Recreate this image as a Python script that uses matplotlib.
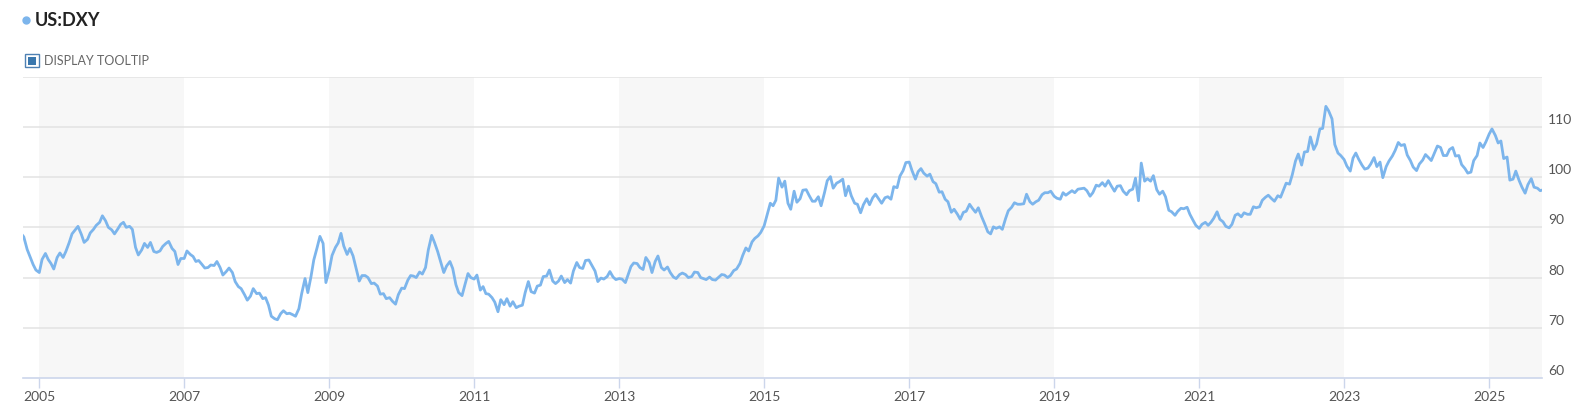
import pandas as pd
import matplotlib
matplotlib.use('Agg')
import matplotlib.pyplot as plt
import matplotlib.dates as mdates
import matplotlib.transforms as mtransforms
from matplotlib.patches import Rectangle

# DXY index, semi-monthly readings (1st and 15th of each month)
v2004 = [88.8, 88.1, 85.6, 84.2, 82.6, 81.5]  # from Oct 1
v2005 = [81.0, 83.6, 84.8, 83.6, 82.8, 81.7, 84.0, 84.9, 84.0, 85.2, 87.0, 88.7,
         89.5, 90.2, 88.6, 87.0, 87.6, 88.9, 89.6, 90.4, 91.0, 92.3, 91.3, 90.0]
v2006 = [89.5, 88.7, 89.7, 90.6, 91.0, 90.0, 90.2, 89.6, 86.0, 84.5, 85.5, 86.8,
         86.0, 87.0, 85.2, 85.0, 85.3, 86.2, 86.8, 87.2, 85.8, 85.2, 82.6, 83.8]
v2007 = [83.8, 85.3, 84.6, 84.2, 83.2, 83.4, 82.6, 81.9, 82.0, 82.5, 82.4, 83.2,
         82.0, 80.5, 81.2, 81.9, 81.0, 79.2, 78.2, 77.8, 76.6, 75.5, 76.3, 77.8]
v2008 = [76.8, 76.9, 75.8, 76.0, 74.5, 72.3, 71.8, 71.6, 72.8, 73.4, 72.8, 72.9,
         72.6, 72.3, 73.8, 76.8, 79.8, 77.0, 80.2, 83.5, 86.0, 88.2, 86.8, 79.0]
v2009 = [81.5, 84.4, 86.0, 86.9, 88.8, 86.3, 84.6, 85.8, 84.3, 82.0, 79.3, 80.4,
         80.4, 80.0, 78.8, 78.9, 78.3, 76.7, 76.8, 75.8, 76.0, 75.3, 74.7, 76.6]
v2010 = [77.9, 77.8, 79.5, 80.4, 80.3, 80.0, 81.1, 80.7, 82.0, 85.5, 88.4, 87.0,
         85.2, 83.3, 81.0, 82.3, 83.2, 81.8, 78.6, 77.0, 76.4, 78.5, 80.8, 80.0]
v2011 = [79.7, 80.5, 77.5, 78.2, 76.8, 76.7, 76.0, 75.1, 73.2, 75.6, 74.6, 75.8,
         74.3, 75.2, 74.0, 74.3, 74.5, 77.0, 79.2, 77.2, 76.9, 78.3, 78.5, 80.2]
v2012 = [80.3, 81.5, 79.3, 78.8, 79.3, 80.3, 79.0, 79.6, 78.9, 81.3, 83.0, 82.0,
         81.8, 83.4, 83.5, 82.5, 81.3, 79.2, 79.9, 79.7, 80.2, 81.2, 80.1, 79.6]
v2013 = [79.8, 79.7, 79.0, 80.6, 82.2, 82.9, 82.8, 82.0, 81.6, 84.0, 83.0, 81.0,
         83.2, 84.3, 82.0, 81.5, 82.1, 81.0, 80.1, 79.8, 80.6, 80.9, 80.6, 80.0]
v2014 = [80.2, 81.1, 81.0, 80.0, 79.8, 79.6, 80.1, 79.6, 79.5, 80.0, 80.6, 80.5,
         80.0, 80.4, 81.4, 81.7, 82.8, 84.4, 85.9, 85.3, 87.1, 87.8, 88.3, 89.0]
v2015 = [90.3, 92.3, 94.8, 94.3, 95.4, 99.8, 98.0, 99.2, 94.8, 93.6, 97.2, 95.0,
         95.7, 97.4, 97.5, 96.4, 95.2, 95.2, 96.1, 94.3, 96.9, 99.3, 100.1, 97.8]
v2016 = [98.8, 99.1, 99.6, 96.3, 98.2, 96.3, 94.8, 94.6, 92.9, 94.5, 95.7, 94.5,
         95.9, 96.6, 95.6, 94.8, 95.9, 96.1, 95.6, 98.1, 97.9, 100.2, 101.3, 102.9]
v2017 = [103.0, 101.3, 99.6, 101.1, 101.7, 100.8, 100.2, 100.6, 99.1, 98.7, 97.0, 97.1,
         95.6, 95.1, 93.0, 93.6, 92.6, 91.6, 93.0, 93.2, 94.6, 93.8, 93.0, 93.9]
v2018 = [92.1, 90.8, 89.1, 88.7, 90.1, 89.8, 90.1, 89.6, 91.7, 93.3, 94.0, 94.9,
         94.6, 94.6, 94.7, 96.6, 95.1, 94.6, 95.1, 95.4, 96.5, 96.9, 96.9, 97.2]
v2019 = [96.2, 95.8, 95.6, 96.9, 96.4, 96.8, 97.3, 96.9, 97.6, 97.7, 97.8, 97.3,
         96.2, 96.9, 98.4, 98.2, 98.9, 98.2, 99.3, 98.3, 97.2, 98.2, 98.3, 97.2]
v2020 = [96.5, 97.3, 97.6, 99.8, 95.3, 102.8, 99.2, 99.7, 99.2, 100.3, 97.5, 96.6,
         97.2, 96.1, 93.4, 93.1, 92.4, 93.2, 93.8, 93.7, 94.0, 92.6, 91.4, 90.4]
v2021 = [89.8, 90.6, 91.0, 90.4, 91.0, 91.8, 93.1, 91.6, 91.1, 90.2, 89.9, 90.6,
         92.4, 92.7, 92.1, 92.9, 92.6, 92.6, 94.1, 93.9, 94.1, 95.4, 96.0, 96.4]
v2022 = [95.7, 95.2, 96.3, 96.0, 97.4, 98.8, 98.6, 100.5, 103.2, 104.6, 102.4, 105.0,
         105.1, 108.0, 105.5, 106.6, 109.6, 109.7, 114.1, 113.2, 111.6, 106.5, 104.8, 104.3]
v2023 = [103.5, 102.2, 101.2, 103.8, 104.8, 103.6, 102.4, 101.6, 101.8, 102.6, 103.9, 102.1,
         103.0, 99.9, 102.1, 103.2, 104.2, 105.3, 106.9, 106.3, 106.5, 104.4, 103.3, 102.0]
v2024 = [101.3, 102.6, 103.4, 104.5, 103.9, 103.3, 104.9, 106.2, 105.9, 104.3, 104.3, 105.5,
         105.9, 104.2, 104.3, 102.5, 101.7, 100.8, 101.0, 103.3, 104.3, 106.8, 105.9, 107.0]
v2025 = [108.6, 109.6, 108.3, 106.8, 107.2, 103.7, 104.0, 99.4, 99.6, 101.2, 99.3, 98.0,
         96.8, 98.5, 99.7, 98.0, 97.8, 97.3, 97.5]

yearly = [v2004, v2005, v2006, v2007, v2008, v2009, v2010, v2011, v2012, v2013, v2014,
          v2015, v2016, v2017, v2018, v2019, v2020, v2021, v2022, v2023, v2024, v2025]
years = list(range(2004, 2026))
tick_years = list(range(2005, 2026, 2))
y_ticks = [60, 70, 80, 90, 100, 110, 120]

parts = []
for yr, vals in zip(years, yearly):
    start = '2004-10-01' if yr == 2004 else f'{yr}-01-01'
    idx = pd.date_range(start, periods=len(vals), freq='SMS')
    parts.append(pd.Series(vals, index=idx))
dxy = pd.concat(parts)

W, H = 1583, 419
fig = plt.figure(figsize=(W / 100, H / 100), dpi=100)
ax = fig.add_axes([23 / W, (H - 378) / H, (1542 - 23) / W, (378 - 76.7) / H])

x0, x1 = pd.Timestamp('2004-10-11'), pd.Timestamp('2025-09-24')

# alternating year bands
for yr in range(2005, 2026, 4):
    ax.axvspan(pd.Timestamp(f'{yr}-01-01'), min(pd.Timestamp(f'{yr + 2}-01-01'), x1),
               color='#f7f7f7', lw=0, zorder=0)

for v in y_ticks[1:]:
    ax.axhline(v, color='#e3e3e3', lw=1.1, zorder=1)

ax.plot(dxy.index, dxy.values, color='#7cb5ec', lw=2.0, zorder=3,
        solid_joinstyle='round')

ax.set_xlim(x0, x1)
ax.set_ylim(60, 120)

for s in ['top', 'left', 'right']:
    ax.spines[s].set_visible(False)
ax.spines['bottom'].set_color('#ccd6eb')
ax.spines['bottom'].set_linewidth(1.2)

ax.set_xticks([pd.Timestamp(f'{y}-01-01') for y in tick_years])
ax.xaxis.set_major_formatter(mdates.DateFormatter('%Y'))
ax.tick_params(axis='x', length=7.5, width=1, color='#ccd6eb', pad=2,
               labelsize=10, labelcolor='#555555')

ax.yaxis.tick_right()
ax.set_yticks(y_ticks)
ax.set_yticklabels([str(v) if v < 120 else '' for v in y_ticks])
ax.tick_params(axis='y', length=0, pad=4.5, labelsize=10, labelcolor='#555555')
shift = mtransforms.ScaledTranslation(0, 8 / 100, fig.dpi_scale_trans)
for lab in ax.get_yticklabels():
    lab.set_transform(lab.get_transform() + shift)
for lab in ax.get_xticklabels() + ax.get_yticklabels():
    lab.set_fontfamily('Lato')

# header
fig.add_artist(plt.Line2D([26 / W], [1 - 20.5 / H], marker='o', markersize=5,
                          color='#7cb5ec', transform=fig.transFigure))
fig.text(35 / W, 1 - 20 / H, 'US:DXY', fontsize=13, fontweight='bold',
         family='Lato', color='#222222', va='center', ha='left')
fig.add_artist(Rectangle((25 / W, 1 - 67.5 / H), 13.5 / W, 13 / H, fill=False,
                         ec='#4f81b3', lw=1, transform=fig.transFigure))
fig.add_artist(Rectangle((28.3 / W, 1 - 65 / H), 7.4 / W, 7.7 / H,
                         fc='#3a77ad', ec='none', transform=fig.transFigure))
fig.text(44 / W, 1 - 61 / H, 'DISPLAY TOOLTIP', fontsize=9, family='Lato',
         color='#666666', va='center', ha='left')

fig.savefig('out.png', dpi=100, facecolor='white')
